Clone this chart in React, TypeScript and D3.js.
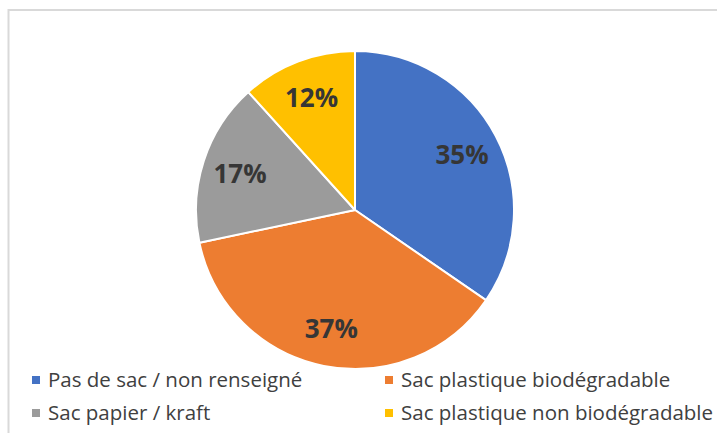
import React, { useEffect, useRef } from "react";
import * as d3 from "d3";

// categories and shares (in %)
const categories = [
  "Pas de sac / non renseigné",
  "Sac plastique biodégradable",
  "Sac papier / kraft",
  "Sac plastique non biodégradable",
];
const shares = [34.6, 37.1, 16.6, 11.7];
const colors = ["#4472C4", "#ED7D31", "#9B9B9B", "#FFC000"];

export default function App() {
  const ref = useRef<SVGSVGElement>(null);

  useEffect(() => {
    const svg = d3.select(ref.current);
    svg.selectAll("*").remove();

    // chart area frame (runs off the right / bottom of the picture)
    svg.append("rect")
      .attr("x", 8.5)
      .attr("y", 10)
      .attr("width", 720)
      .attr("height", 440)
      .attr("fill", "#fff")
      .attr("stroke", "#d9d9d9")
      .attr("stroke-width", 2);

    const cx = 355;
    const cy = 210;
    const radius = 159;

    const data = categories.map((c, i) => ({ name: c, value: shares[i], color: colors[i] }));

    const pie = d3.pie<any>().value(d => d.value).sort(null);
    const arc = d3.arc<any>().innerRadius(0).outerRadius(radius);
    const labelArc = d3.arc<any>().innerRadius(radius * 0.76).outerRadius(radius * 0.76);

    const g = svg.append("g").attr("transform", `translate(${cx}, ${cy})`);

    const slices = g.selectAll("g.slice")
      .data(pie(data))
      .enter()
      .append("g")
      .attr("class", "slice");

    slices.append("path")
      .attr("d", arc)
      .attr("fill", d => d.data.color)
      .attr("stroke", "#fff")
      .attr("stroke-width", 2)
      .attr("stroke-linejoin", "round");

    slices.append("text")
      .attr("transform", d => `translate(${labelArc.centroid(d)})`)
      .attr("text-anchor", "middle")
      .attr("dy", "0.38em")
      .attr("font-family", "'Open Sans', sans-serif")
      .attr("font-weight", "bold")
      .attr("font-size", 26)
      .attr("fill", "#363636")
      .text(d => Math.round(d.data.value) + "%");

    // legend, two columns
    const colX = d3.scalePoint<number>().domain([0, 1]).range([32, 385]);
    const rowY = d3.scalePoint<number>().domain([0, 1]).range([380, 413]);

    const legend = svg.append("g")
      .selectAll("g")
      .data(data)
      .enter()
      .append("g")
      .attr("transform", (d, i) => `translate(${colX(i % 2)}, ${rowY(Math.floor(i / 2))})`);

    legend.append("rect")
      .attr("x", 0)
      .attr("y", -4)
      .attr("width", 8)
      .attr("height", 8)
      .attr("fill", d => d.color);

    legend.append("text")
      .attr("x", 16)
      .attr("dy", "0.35em")
      .attr("font-family", "'Open Sans', sans-serif")
      .attr("font-size", 20.5)
      .attr("fill", "#404040")
      .text(d => d.name);
  }, []);

  return (
    <div style={{ position: "absolute", left: 0, top: 0 }}>
      <svg ref={ref} width="717" height="433" style={{ display: "block" }} />
    </div>
  );
}
